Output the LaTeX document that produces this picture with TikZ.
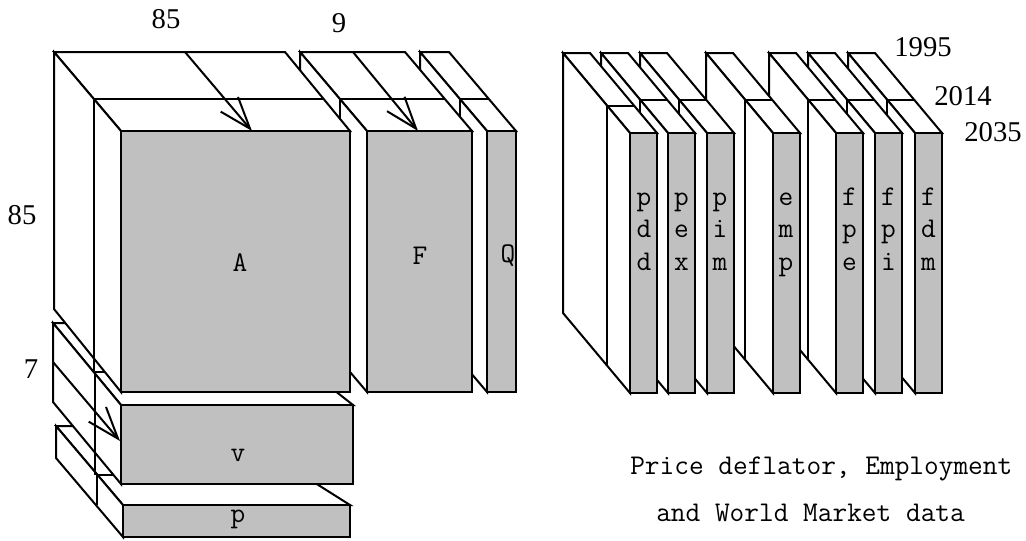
\documentclass[tikz,border=0pt]{standalone}
\usepackage{fontspec}
\setmainfont{Liberation Serif}
\usetikzlibrary{arrows.meta}
\definecolor{facegray}{HTML}{C0C0C0}
\newcommand{\cub}[8]{%
  \path[face] (#1,#2) -- (#3,#2) -- (#7,#6) -- (#5,#6) -- cycle;
  \path[face] (#1,#2) -- (#5,#6) -- (#5,#8) -- (#1,#4) -- cycle;
  \path[front] (#5,#6) rectangle (#7,#8);
}
\tikzset{
  edge/.style={draw=black, line width=1.5pt},
  face/.style={fill=white, draw=black, line width=1.5pt},
  front/.style={fill=facegray, draw=black, line width=1.5pt},
  lbl/.style={font=\fontsize{21.4}{24}\selectfont\ttfamily, inner sep=0pt},
  num/.style={font=\fontsize{21.5}{24}\selectfont, inner sep=0pt},
  arr/.style={line width=1.5pt, -{Straight Barb[length=24pt,width=17pt]}}
}
\begin{document}
\begin{tikzpicture}[x=0.75pt,y=-0.75pt]
\useasboundingbox (0,0) rectangle (1026,540);

% ---------- Q ----------
\cub{420}{52}{449}{313}{487}{131}{516}{392}
\draw[edge] (460,99) -- (489,99) (460,99) -- (460,360);
% ---------- F ----------
\cub{300}{52}{405}{313}{367}{131}{472}{392}
\draw[edge] (340,99) -- (445,99) (340,99) -- (340,360);
\coordinate (fs) at (353,52);
\coordinate (ft) at (418,131);
\draw[arr] (fs) -- (ft);
% ---------- p ----------
\path[face] (56,426) -- (225,426) -- (350,505) -- (123,505) -- cycle;
\path[face] (56,426) -- (123,505) -- (123,537) -- (56,458) -- cycle;
\draw[edge] (97,475) -- (200,475) (97,475) -- (97,505);
\path[front] (123,505) rectangle (350,537);
% ---------- v ----------
\path[face] (53,323) -- (249,323) -- (353,405) -- (121,405) -- cycle;
\path[face] (53,323) -- (121,405) -- (121,484) -- (53,402) -- cycle;
\draw[edge] (95,372) -- (300,372) (95,372) -- (95,475);
\path[front] (121,405) rectangle (353,484);
\coordinate (vs) at (53,362);
\coordinate (vt) at (120,441);
\draw[arr] (vs) -- (vt);
% ---------- A ----------
\path[face] (54,52) -- (285,52) -- (350,131) -- (121,131) -- cycle;
\path[face] (54,52) -- (121,131) -- (121,392) -- (54,309) -- cycle;
\draw[edge] (94,99) -- (323,99) (94,99) -- (94,371);
\path[front] (121,131) rectangle (350,392);
\coordinate (as) at (185,52);
\coordinate (at) at (252,131);
\draw[arr] (as) -- (at);

% ---------- right-hand columns ----------
\foreach \f/\my in {915/100, 875/100, 836/100, 773/100, 707/100, 668/100, 630/106}{
  \cub{\f-67}{53}{\f-40}{313}{\f}{133}{\f+27}{393}
  \draw[edge] ({\f-67+(\my-53)*0.8375},\my) -- ({\f-40+(\my-53)*0.8375},\my)
              ({\f-67+(\my-53)*0.8375},\my) -- ({\f-67+(\my-53)*0.8375},\my+260);
}

% ---------- labels ----------
\node[lbl] (A) at (240,263) {A};
\node[lbl] (F) at (420,256) {F};
\node[lbl] (Q) at (508,256) {Q};
\node[lbl] (v) at (238,455) {v};
\node[lbl] (p) at (238,519) {p};

\foreach \nm/\x/\a/\b/\c in {pdd/644/p/d/d, pex/681.5/p/e/x, pim/720/p/i/m, emp/786/e/m/p, fpe/849.5/f/p/e, fpi/888.5/f/p/i, fdm/928.5/f/d/m}{
  \node[lbl, anchor=base] (\nm1) at (\x,205) {\a};
  \node[lbl, anchor=base] (\nm2) at (\x,237.5) {\b};
  \node[lbl, anchor=base] (\nm3) at (\x,270) {\c};
}

\node[num] (n85a) at (166,19) {85};
\node[num] (n9) at (339,23) {9};
\node[num] (n85b) at (22,215) {85};
\node[num] (n7) at (31,369) {7};
\node[num] (y1995) at (923,47) {1995};
\node[num] (y2014) at (963,96) {2014};
\node[num] (y2035) at (993,132) {2035};

\node[lbl, anchor=base west] (cap1) at (630,474) {Price deflator, Employment};
\node[lbl, anchor=base west] (cap2) at (656,521) {and World Market data};
\end{tikzpicture}
\end{document}
